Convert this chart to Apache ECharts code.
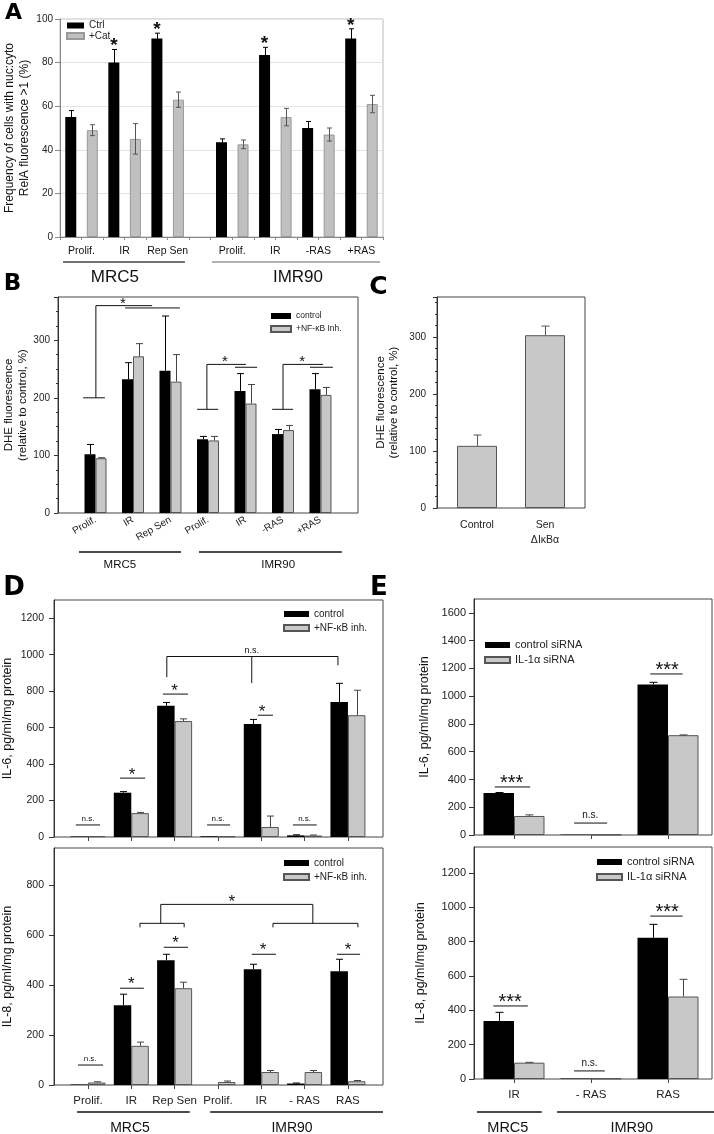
<!DOCTYPE html>
<html>
<head>
<meta charset="utf-8">
<script src="https://cdn.jsdelivr.net/npm/echarts@6.0.0/dist/echarts.min.js"></script>
<style>
  html, body { margin: 0; padding: 0; background: #fff; }
  #main { width: 714px; height: 1134px; }
</style>
</head>
<body>
<div id="main"></div>
<script>
// ---------- data ----------
// A: RelA nuclear:cytoplasmic ratio
var aCats = [['Prolif.', 'IR', 'Rep Sen'], ['Prolif.', 'IR', '-RAS', '+RAS']];
var aCtrl = [55, 80, 91, 43.5, 83.5, 50, 91];
var aCtrlErr = [3, 6, 2.5, 1.5, 3.5, 3, 4.5];
var aCat = [49, 45, 63, 42.5, 55, 47, 61];
var aCatErr = [2.5, 7, 3.5, 2, 4, 3, 4];
var aStar = [0, 1, 1, 0, 1, 0, 1];

// B: DHE fluorescence +/- NF-kB inhibitor
var bCats = ['Prolif.', 'IR', 'Rep Sen', 'Prolif.', 'IR', '-RAS', '+RAS'];
var bCtrl = [102, 232, 247, 128, 212, 137, 215];
var bCtrlErr = [17, 29, 95, 5, 30, 8, 27];
var bInh = [95, 272, 228, 126, 190, 144, 205];
var bInhErr = [1, 22, 47, 7, 33, 8, 13];

// C: DHE fluorescence, IkBa super-repressor
var cCats = ['Control', 'Sen\nΔIκBα'];
var cVals = [109, 303];
var cErr = [19, 16];

// D: IL-6 / IL-8 +/- NF-kB inhibitor
var dCats = ['Prolif.', 'IR', 'Rep Sen', 'Prolif.', 'IR', '- RAS', 'RAS'];
var d6Ctrl = [3, 243, 720, 4, 620, 9, 740];
var d6CtrlErr = [0, 6, 18, 0, 25, 3, 103];
var d6Inh = [5, 131, 636, 4, 55, 8, 668];
var d6InhErr = [0, 4, 12, 0, 60, 3, 137];
var d8Ctrl = [2, 320, 500, 0, 464, 6, 456];
var d8CtrlErr = [0, 44, 24, 0, 20, 2, 48];
var d8Inh = [10, 157, 388, 12, 52, 52, 15];
var d8InhErr = [3, 15, 24, 4, 6, 6, 3];

// E: IL-6 / IL-8 with IL-1a siRNA
var eCats = ['IR', '- RAS', 'RAS'];
var e6Ctrl = [302, 3, 1085];
var e6CtrlErr = [4, 0, 15];
var e6Si = [137, 3, 719];
var e6SiErr = [8, 0, 2];
var e8Ctrl = [338, 3, 822];
var e8CtrlErr = [50, 0, 78];
var e8Si = [95, 3, 480];
var e8SiErr = [2, 0, 100];

// ---------- annotations (x in category units, v in data units) ----------
var bAnno = [
  {t: 'p', p: [[0.67, 200], [1.25, 200]]},
  {t: 'p', p: [[1.01, 200], [1.01, 360], [2.51, 360]]},
  {t: 'p', p: [[1.79, 356], [3.25, 356]]},
  {t: 's', x: 1.73, v: 360, s: '*', f: 15, dy: -1.5},
  {t: 'p', p: [[3.71, 180], [4.27, 180]]},
  {t: 'p', p: [[3.97, 180], [3.97, 258], [5.01, 258]]},
  {t: 'p', p: [[4.72, 253], [5.31, 253]]},
  {t: 's', x: 4.45, v: 258, s: '*', f: 15, dy: -2.5},
  {t: 'p', p: [[5.71, 180], [6.27, 180]]},
  {t: 'p', p: [[6.0, 180], [6.0, 258], [7.07, 258]]},
  {t: 'p', p: [[6.72, 253], [7.33, 253]]},
  {t: 's', x: 6.51, v: 258, s: '*', f: 15, dy: -2.5},
  {t: 'gl', x1: 0.56, x2: 3.28, dy: 39},
  {t: 'gl', x1: 3.76, x2: 7.57, dy: 39},
  {t: 'gt', x: 1.65, dy: 52, s: 'MRC5', f: 11.5},
  {t: 'gt', x: 5.87, dy: 52, s: 'IMR90', f: 11.5}
];
var d6Anno = [
  {t: 'p', p: [[-0.28, 66], [0.28, 66]]}, {t: 's', x: 0, v: 66, s: 'n.s.', f: 8, dy: -6},
  {t: 'p', p: [[2.75, 66], [3.28, 66]]}, {t: 's', x: 3, v: 66, s: 'n.s.', f: 8, dy: -6},
  {t: 'p', p: [[4.73, 66], [5.28, 66]]}, {t: 's', x: 5, v: 66, s: 'n.s.', f: 8, dy: -6},
  {t: 'p', p: [[0.74, 323], [1.32, 323]]}, {t: 's', x: 1.02, v: 323, s: '*', f: 17, dy: -3},
  {t: 'p', p: [[1.73, 784], [2.31, 784]]}, {t: 's', x: 2.0, v: 784, s: '*', f: 17, dy: -3},
  {t: 'p', p: [[3.92, 668], [4.27, 668]]}, {t: 's', x: 4.02, v: 668, s: '*', f: 17, dy: -3},
  {t: 'p', p: [[1.82, 877], [1.82, 990], [5.77, 990], [5.77, 942]]},
  {t: 'p', p: [[3.78, 990], [3.78, 844]]},
  {t: 's', x: 3.78, v: 990, s: 'n.s.', f: 9, dy: -6}
];
var d8Anno = [
  {t: 'p', p: [[-0.23, 80], [0.35, 80]]}, {t: 's', x: 0.05, v: 80, s: 'n.s.', f: 8, dy: -6},
  {t: 'p', p: [[0.74, 388], [1.29, 388]]}, {t: 's', x: 1.0, v: 388, s: '*', f: 17, dy: -4},
  {t: 'p', p: [[1.75, 552], [2.31, 552]]}, {t: 's', x: 2.02, v: 552, s: '*', f: 17, dy: -4},
  {t: 'p', p: [[3.78, 524], [4.34, 524]]}, {t: 's', x: 4.04, v: 524, s: '*', f: 17, dy: -4},
  {t: 'p', p: [[5.75, 524], [6.28, 524]]}, {t: 's', x: 6.0, v: 524, s: '*', f: 17, dy: -4},
  {t: 'p', p: [[1.2, 632], [1.2, 648], [2.22, 648], [2.22, 632]]},
  {t: 'p', p: [[1.68, 648], [1.68, 724], [5.19, 724], [5.19, 648]]},
  {t: 'p', p: [[4.27, 632], [4.27, 648], [6.23, 648], [6.23, 632]]},
  {t: 's', x: 3.32, v: 724, s: '*', f: 17, dy: -2},
  {t: 'gl', x1: -0.25, x2: 2.35, dy: 27},
  {t: 'gl', x1: 2.82, x2: 6.81, dy: 27},
  {t: 'gt', x: 0.97, dy: 43, s: 'MRC5', f: 14},
  {t: 'gt', x: 4.71, dy: 43, s: 'IMR90', f: 14}
];
var e6Anno = [
  {t: 'p', p: [[-0.25, 346], [0.21, 346]]}, {t: 's', x: -0.03, v: 346, s: '***', f: 20, dy: -3.5},
  {t: 'p', p: [[0.78, 86], [1.21, 86]]}, {t: 's', x: 0.99, v: 86, s: 'n.s.', f: 10, dy: -8},
  {t: 'p', p: [[1.77, 1160], [2.19, 1160]]}, {t: 's', x: 1.99, v: 1160, s: '***', f: 20, dy: -3.5}
];
var e8Anno = [
  {t: 'p', p: [[-0.27, 425], [0.18, 425]]}, {t: 's', x: -0.05, v: 425, s: '***', f: 20, dy: -3.5},
  {t: 'p', p: [[0.78, 47], [1.18, 47]]}, {t: 's', x: 0.98, v: 47, s: 'n.s.', f: 10, dy: -8},
  {t: 'p', p: [[1.77, 948], [2.19, 948]]}, {t: 's', x: 1.99, v: 948, s: '***', f: 20, dy: -3.5},
  {t: 'gl', x1: -0.48, x2: 0.36, dy: 33},
  {t: 'gl', x1: 0.56, x2: 2.6, dy: 33},
  {t: 'gt', x: -0.08, dy: 49, s: 'MRC5', f: 14.5},
  {t: 'gt', x: 1.53, dy: 49, s: 'IMR90', f: 14.5}
];

// ---------- helpers ----------
var FONT = '"Liberation Sans", Arial, Helvetica, sans-serif';
var grids = [], xAxes = [], yAxes = [], series = [], legends = [];

function addGrid(g) {
  grids.push(Object.assign({containLabel: false, outerBoundsMode: 'none'}, g));
  return grids.length - 1;
}

function yAxisStyle(o) {
  var c = o.line || '#333';
  return {
    gridIndex: o.grid, type: 'value', min: 0, max: o.max, interval: o.interval,
    axisLine: {show: true, lineStyle: {color: c, width: 1}},
    axisTick: {show: true, length: o.tick || 4, lineStyle: {color: c}},
    minorTick: o.minor ? {show: true, splitNumber: o.minor, length: 2, lineStyle: {color: c}} : {show: false},
    axisLabel: {fontSize: o.fs || 10, color: '#222', fontFamily: FONT, margin: o.margin || 8,
      showMaxLabel: !!o.showMax, formatter: function (v) { return String(v); }},
    splitLine: o.split ? {show: true, lineStyle: {color: '#e4e4e4'}} : {show: false},
    name: o.name, nameLocation: 'middle', nameGap: o.gap, nameRotate: 90,
    nameTextStyle: {fontSize: o.nfs || 12, fontFamily: FONT, color: '#111', lineHeight: o.nlh || 15}
  };
}

// framed panel: a bordered grid carrying the y axis plus an inner grid for the bars
function framed(o) {
  var fg = addGrid({left: o.frame[0], top: o.frame[1], width: o.frame[2], height: o.frame[3],
    show: true, borderColor: '#444', borderWidth: 1, backgroundColor: 'transparent'});
  xAxes.push({gridIndex: fg, type: 'value', show: false, min: 0, max: 1});
  yAxes.push(yAxisStyle(Object.assign({grid: fg}, o.y)));
  var bg = addGrid({left: o.bars[0], top: o.frame[1], width: o.bars[1], height: o.frame[3]});
  var xi = xAxes.push({gridIndex: bg, type: 'category', data: o.cats,
    axisLine: {show: false},
    axisTick: {show: !!o.ticks, alignWithLabel: true, interval: 0, length: 4, lineStyle: {color: '#444'}},
    axisLabel: {show: !!o.labels, interval: 0, fontSize: o.lfs || 11, color: '#222', fontFamily: FONT,
      margin: o.lm || 8, lineHeight: o.llh || 14}}) - 1;
  var yi = yAxes.push({gridIndex: bg, type: 'value', min: 0, max: o.y.max, show: false}) - 1;
  return {x: xi, y: yi};
}

function errSeries(ax, xs, vals, errs, dx, opt) {
  return {
    type: 'custom', xAxisIndex: ax.x, yAxisIndex: ax.y, clip: false, silent: true, z: 4,
    data: vals.map(function (v, i) { return [xs[i], v, errs[i]]; }),
    encode: {x: 0, y: 1},
    renderItem: function (params, api) {
      var e = api.value(2);
      if (!e) return;
      var v = api.value(1);
      var top = api.coord([api.value(0), v + e]);
      var low = api.coord([api.value(0), opt.both ? v - e : v]);
      var x = Math.round(top[0] + dx) + 0.5, h = opt.cap / 2;
      var st = function () { return {stroke: opt.color, lineWidth: 1}; };
      var kids = [
        {type: 'line', shape: {x1: x, y1: low[1], x2: x, y2: top[1]}, style: st()},
        {type: 'line', shape: {x1: x - h, y1: top[1], x2: x + h, y2: top[1]}, style: st()}
      ];
      if (opt.both) kids.push({type: 'line', shape: {x1: x - h, y1: low[1], x2: x + h, y2: low[1]}, style: st()});
      return {type: 'group', children: kids};
    }
  };
}

function annoSeries(ax, items) {
  return {
    type: 'custom', xAxisIndex: ax.x, yAxisIndex: ax.y, clip: false, silent: true, z: 6,
    data: items.map(function () { return [0, 0]; }),
    encode: {x: 0, y: 1},
    renderItem: function (params, api) {
      var it = items[params.dataIndex];
      var bw = api.size([1, 0])[0];
      var P = function (x, v) { var c = api.coord([0, v]); return [c[0] + x * bw, c[1]]; };
      var y0 = api.coord([0, 0])[1];
      if (it.t === 'p') {
        return {type: 'polyline', shape: {points: it.p.map(function (q) { return P(q[0], q[1]); })},
          style: {stroke: it.c || '#111', lineWidth: it.w || 1, fill: 'none'}};
      }
      if (it.t === 'gl') {
        var a = P(it.x1, 0), b = P(it.x2, 0);
        return {type: 'line', shape: {x1: a[0], y1: y0 + it.dy, x2: b[0], y2: y0 + it.dy},
          style: {stroke: it.c || '#111', lineWidth: it.w || 1.5}};
      }
      var pos = it.t === 'gt' ? [P(it.x, 0)[0], y0 + it.dy] : P(it.x, it.v);
      if (it.t === 's') pos[1] += it.dy || 0;
      return {type: 'text', x: pos[0], y: pos[1],
        style: {text: it.s, fill: '#111', font: (it.b ? 'bold ' : '') + it.f + 'px ' + FONT,
          align: 'center', verticalAlign: 'middle'}};
    }
  };
}

function pairBars(ax, x0, names, a, aErr, b, bErr, w, cap) {
  var xs = a.map(function (_, i) { return i + x0; });
  series.push({type: 'bar', name: names[0], xAxisIndex: ax.x, yAxisIndex: ax.y, barWidth: w, barGap: '0%',
    data: a.map(function (v, i) { return [xs[i], v]; }), itemStyle: {color: '#000'}});
  series.push({type: 'bar', name: names[1], xAxisIndex: ax.x, yAxisIndex: ax.y, barWidth: w, barGap: '0%',
    data: b.map(function (v, i) { return [xs[i], v]; }),
    itemStyle: {color: '#c8c8c8', borderColor: '#555', borderWidth: 1}});
  series.push(errSeries(ax, xs, a, aErr, -w / 2, {cap: cap, color: '#000'}));
  series.push(errSeries(ax, xs, b, bErr, w / 2, {cap: cap, color: '#444'}));
}

function addLegend(o) {
  legends.push({left: o.left, top: o.top, orient: 'vertical', icon: 'rect', padding: 0,
    itemWidth: o.w, itemHeight: 6, itemGap: o.gap, selectedMode: false, data: o.data,
    textStyle: {fontSize: o.fs, fontFamily: FONT, color: '#222', lineHeight: o.lh}});
}

// ---------- panel A ----------
var gA = addGrid({left: 60, top: 19, width: 323, height: 218, show: true, borderColor: '#bbb', borderWidth: 1,
  backgroundColor: 'transparent'});
var slotsCtrl = [], slotsCat = [], aLabels = [], slot = 0;
aCats.forEach(function (list, g) {
  if (g) slot += 1; // empty slot between the two cell lines
  list.forEach(function (name) {
    slotsCtrl.push(slot); slotsCat.push(slot + 1); aLabels.push([slot + 0.5, name]); slot += 2;
  });
});
var aSlotNames = [];
for (var i = 0; i < slot; i++) aSlotNames.push(String(i));
var axA = {
  x: xAxes.push({gridIndex: gA, type: 'category', data: aSlotNames,
    axisLine: {show: true, lineStyle: {color: '#888'}},
    axisTick: {show: true, interval: 0, length: 3, lineStyle: {color: '#888'}},
    axisLabel: {show: false}}) - 1,
  y: yAxes.push(yAxisStyle({grid: gA, max: 100, interval: 20, line: '#888', tick: 5, fs: 10, margin: 7,
    showMax: true, split: true, name: 'Frequency of cells with nuc:cyto\nRelA fluorescence >1 (%)',
    gap: 26, nfs: 12, nlh: 15})) - 1
};
series.push({type: 'bar', name: 'Ctrl', xAxisIndex: axA.x, yAxisIndex: axA.y, barWidth: 11, barGap: '-100%',
  data: aCtrl.map(function (v, i) { return [slotsCtrl[i], v]; }), itemStyle: {color: '#000'}});
series.push({type: 'bar', name: '+Cat', xAxisIndex: axA.x, yAxisIndex: axA.y, barWidth: 11, barGap: '-100%',
  data: aCat.map(function (v, i) { return [slotsCat[i], v]; }),
  itemStyle: {color: '#c0c0c0', borderColor: '#999', borderWidth: 1}});
series.push(errSeries(axA, slotsCtrl, aCtrl, aCtrlErr, 0, {both: true, cap: 5, color: '#000'}));
series.push(errSeries(axA, slotsCat, aCat, aCatErr, 0, {both: true, cap: 5, color: '#555'}));
var aAnno = [
  {t: 'gl', x1: -0.36, x2: 5.3, dy: 25, c: '#444'},
  {t: 'gl', x1: 6.56, x2: 14.36, dy: 25, c: '#999'},
  {t: 'gt', x: 2.05, dy: 40, s: 'MRC5', f: 17},
  {t: 'gt', x: 10.55, dy: 40, s: 'IMR90', f: 17}
];
aLabels.forEach(function (l) { aAnno.push({t: 'gt', x: l[0], dy: 14, s: l[1], f: 10.5}); });
aCtrl.forEach(function (v, i) {
  if (aStar[i]) aAnno.push({t: 's', x: slotsCtrl[i], v: v + aCtrlErr[i], s: '*', f: 19, b: true, dy: -3.5});
});
series.push(annoSeries(axA, aAnno));
addLegend({left: 66, top: 20.5, w: 17, gap: 0.5, fs: 10, lh: 9, data: ['Ctrl', '+Cat']});

// ---------- panel B ----------
var gB = addGrid({left: 58, top: 297, width: 300, height: 216, show: true, borderColor: '#444', borderWidth: 1,
  backgroundColor: 'transparent'});
var axB = {
  x: xAxes.push({gridIndex: gB, type: 'category', boundaryGap: false, data: [''].concat(bCats, ['']),
    axisLine: {show: false}, axisTick: {show: false},
    axisLabel: {interval: 0, rotate: 30, fontSize: 10, color: '#222', fontFamily: FONT, margin: 6}}) - 1,
  y: yAxes.push(yAxisStyle({grid: gB, max: 375, interval: 100, minor: 4, fs: 10, margin: 8,
    name: 'DHE fluorescence\n(relative to control, %)', gap: 26, nfs: 11.5, nlh: 14})) - 1
};
pairBars(axB, 1, ['control', '+NF-κB Inh.'], bCtrl, bCtrlErr, bInh, bInhErr, 11, 7);
series.push(annoSeries(axB, bAnno));
addLegend({left: 270, top: 311, w: 20, gap: 3, fs: 8.5, lh: 10, data: ['control', '+NF-κB Inh.']});

// ---------- panel C ----------
var axC = framed({frame: [437, 297, 148, 211], bars: [443, 136], cats: cCats, labels: true, lfs: 10.5, lm: 10, llh: 15,
  y: {max: 370, interval: 100, minor: 5, fs: 10, margin: 11,
    name: 'DHE fluorescence\n(relative to control, %)', gap: 37, nfs: 11.5, nlh: 13}});
series.push({type: 'bar', name: 'DHE', xAxisIndex: axC.x, yAxisIndex: axC.y, barWidth: 40, data: cVals,
  itemStyle: {color: '#c8c8c8', borderColor: '#555', borderWidth: 1}});
series.push(errSeries(axC, [0, 1], cVals, cErr, 0, {cap: 8, color: '#555'}));

// ---------- panel D ----------
var axD6 = framed({frame: [54, 600, 329, 237], bars: [66.3, 303.3], cats: dCats, ticks: true,
  y: {max: 1300, interval: 200, fs: 10.5, margin: 10, tick: 5, name: 'IL-6, pg/ml/mg protein', gap: 39, nfs: 12.5}});
pairBars(axD6, 0, ['control', '+NF-κB inh.'], d6Ctrl, d6CtrlErr, d6Inh, d6InhErr, 17.5, 7);
series.push(annoSeries(axD6, d6Anno));
addLegend({left: 283, top: 608.5, w: 25, gap: 3, fs: 10, lh: 11, data: ['control', '+NF-κB inh.']});

var axD8 = framed({frame: [54, 848, 329, 237], bars: [66.3, 303.3], cats: dCats, ticks: true, labels: true,
  lfs: 11.5, lm: 9,
  y: {max: 950, interval: 200, fs: 10.5, margin: 10, tick: 5, name: 'IL-8, pg/ml/mg protein', gap: 39, nfs: 12.5}});
pairBars(axD8, 0, ['control', '+NF-κB inh.'], d8Ctrl, d8CtrlErr, d8Inh, d8InhErr, 17.5, 7);
series.push(annoSeries(axD8, d8Anno));
addLegend({left: 283, top: 857.5, w: 25, gap: 3, fs: 10, lh: 11, data: ['control', '+NF-κB inh.']});

// ---------- panel E ----------
var axE6 = framed({frame: [474, 599, 238, 236], bars: [475.5, 231], cats: eCats, ticks: true,
  y: {max: 1700, interval: 200, fs: 11, margin: 8, tick: 5, name: 'IL-6, pg/ml/mg protein', gap: 42, nfs: 12.5}});
pairBars(axE6, 0, ['control siRNA', 'IL-1α siRNA'], e6Ctrl, e6CtrlErr, e6Si, e6SiErr, 30.5, 8);
series.push(annoSeries(axE6, e6Anno));
addLegend({left: 484, top: 639, w: 25, gap: 3, fs: 11, lh: 12, data: ['control siRNA', 'IL-1α siRNA']});

var axE8 = framed({frame: [474, 847, 238, 232], bars: [475.5, 231], cats: eCats, ticks: true, labels: true,
  lfs: 11.5, lm: 9,
  y: {max: 1350, interval: 200, fs: 11, margin: 8, tick: 5, name: 'IL-8, pg/ml/mg protein', gap: 46, nfs: 12.5}});
pairBars(axE8, 0, ['control siRNA', 'IL-1α siRNA'], e8Ctrl, e8CtrlErr, e8Si, e8SiErr, 30.5, 8);
series.push(annoSeries(axE8, e8Anno));
addLegend({left: 596, top: 856, w: 25, gap: 3, fs: 11, lh: 12, data: ['control siRNA', 'IL-1α siRNA']});

// ---------- panel letters ----------
var letters = [['A', 13.5, 13, 22], ['B', 12.5, 284, 23], ['C', 378.5, 287, 25], ['D', 14, 588, 26], ['E', 379, 588, 26]];

var chart = echarts.init(document.getElementById('main'));
chart.setOption({
  animation: false,
  backgroundColor: '#fff',
  textStyle: {fontFamily: FONT},
  grid: grids,
  xAxis: xAxes,
  yAxis: yAxes,
  legend: legends,
  series: series,
  graphic: letters.map(function (l) {
    return {type: 'text', x: l[1], y: l[2],
      style: {text: l[0], font: 'bold ' + l[3] + 'px "DejaVu Sans", sans-serif', fill: '#000',
        align: 'center', verticalAlign: 'middle'}};
  })
});
</script>
</body>
</html>
